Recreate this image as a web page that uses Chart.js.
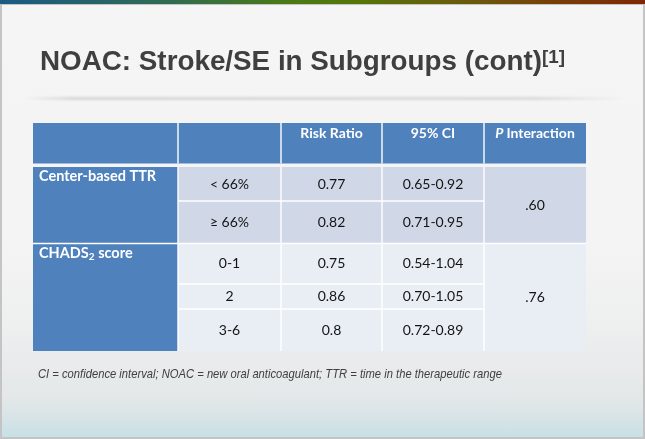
<!DOCTYPE html>
<html>
<head>
<meta charset="utf-8">
<script src="https://cdn.jsdelivr.net/npm/chart.js@4/dist/chart.umd.min.js"></script>
<style>
  html, body { margin: 0; padding: 0; }
  body { width: 645px; height: 439px; overflow: hidden; position: relative; background: #c4c4c4; }
  #strip { position: absolute; left: 0; top: 0; width: 645px; height: 4px;
    background: linear-gradient(to right, #1b5a86 0%, #2f6a55 25%, #4a7a14 45%, #55760a 55%, #6a5a0c 72%, #7a3a08 88%, #7e2606 100%); }
  #slide { position: absolute; left: 2px; top: 5px; width: 641px; height: 432px;
    background: linear-gradient(to bottom, #f5f5f5 0px, #f4f4f4 235px, #eeefef 320px, #e8eaeb 365px, #e4e8e9 390px, #dde5e8 405px, #d2e2e6 420px, #c6e1e5 432px); }
  #sep { position: absolute; left: 25px; top: 97px; width: 600px; height: 3px;
    background: linear-gradient(to right, rgba(215,215,215,0) 0%, rgba(215,215,215,1) 8%, rgba(218,218,218,1) 85%, rgba(225,225,225,0) 100%);
    filter: blur(1px); }
  #title { position: absolute; left: 40px; top: 43px; white-space: nowrap; transform-origin: 0 0;
    font-family: "Liberation Sans", Arial, sans-serif; font-weight: bold; font-size: 28px; line-height: 36px; color: #3f3f3f; }
  #title .sup { font-size: 19px; position: relative; top: -7px; }
  #foot { position: absolute; left: 38px; top: 366px; white-space: nowrap; transform-origin: 0 0;
    font-family: "Liberation Sans", Arial, sans-serif; font-style: italic; font-size: 13px; line-height: 16px; color: #404040; }
  #c { position: absolute; left: 0; top: 0; }
</style>
</head>
<body>
<div id="strip"></div>
<div id="slide"></div>
<div id="sep"></div>
<div id="title">NOAC: Stroke/SE in Subgroups (cont)<span class="sup">[1]</span></div>
<div id="foot">CI = confidence interval; NOAC = new oral anticoagulant; TTR = time in the therapeutic range</div>
<canvas id="c" width="645" height="439"></canvas>
<script>
// ---------------- data ----------------
const headers = ['', '', 'Risk Ratio', '95% CI', 'P Interaction'];
const groups = ['Center-based TTR', 'CHADS₂ score'];
const subgroups = ['< 66%', '≥ 66%', '0-1', '2', '3-6'];
const subgroupGroup = [0, 0, 1, 1, 1];
const riskRatio = [0.77, 0.82, 0.75, 0.86, 0.8];
const ciLow = [0.65, 0.71, 0.54, 0.70, 0.72];
const ciHigh = [0.92, 0.95, 1.04, 1.05, 0.89];
const pInteraction = [0.60, 0.76];

// ---------------- layout (table units) ----------------
const COL_W = [145, 103, 101, 102, 102];
const HEADER_H = 40.5;
const GAP_H = 3.5;
const ROW_H = [34, 42.5, 40.5, 25, 42];
const colEdges = [0];
COL_W.forEach(w => colEdges.push(colEdges[colEdges.length - 1] + w));
const rowEdges = [HEADER_H + GAP_H];
ROW_H.forEach(h => rowEdges.push(rowEdges[rowEdges.length - 1] + h));
const TOTAL_W = colEdges[colEdges.length - 1];
const TOTAL_H = rowEdges[rowEdges.length - 1];

const BLUE = '#4f81bd';
const BAND = ['#d0d8e8', '#e9edf4'];
const FONT = 'Lato, "Open Sans", sans-serif';
const HEAD_FONT = 'bold 14px ' + FONT;
const HEAD_FONT_I = 'italic bold 14px ' + FONT;
const GROUP_FONT = 'bold 14.5px ' + FONT;
const BODY_FONT = '14px ' + FONT;

function groupSpan(g) {
  const idx = subgroupGroup.map((v, i) => v === g ? i : -1).filter(i => i >= 0);
  return [rowEdges[idx[0]], rowEdges[idx[idx.length - 1] + 1]];
}

const tablePlugin = {
  id: 'tablePlugin',
  afterDatasetsDraw(chart) {
    const ctx = chart.ctx;
    const xs = chart.scales.x, ys = chart.scales.y;
    const X = v => xs.getPixelForValue(v);
    const Y = v => ys.getPixelForValue(v);
    const rect = (x0, y0, x1, y1, color) => {
      ctx.fillStyle = color;
      ctx.fillRect(X(x0), Y(y0), X(x1) - X(x0), Y(y1) - Y(y0));
    };
    ctx.save();
    rect(0, 0, TOTAL_W, HEADER_H, BLUE);
    groups.forEach((g, gi) => {
      const [a, b] = groupSpan(gi);
      rect(colEdges[0], a, colEdges[1], b, BLUE);
      rect(colEdges[4], a, colEdges[5], b, BAND[gi]);
    });
    subgroups.forEach((s, i) => {
      rect(colEdges[1], rowEdges[i], colEdges[4], rowEdges[i + 1], BAND[subgroupGroup[i]]);
    });
    ctx.strokeStyle = '#ffffff';
    ctx.lineWidth = 1.4;
    const line = (x0, y0, x1, y1) => {
      ctx.beginPath(); ctx.moveTo(X(x0), Y(y0)); ctx.lineTo(X(x1), Y(y1)); ctx.stroke();
    };
    for (let c = 1; c < COL_W.length; c++) {
      line(colEdges[c], 0, colEdges[c], HEADER_H);
      line(colEdges[c], rowEdges[0], colEdges[c], TOTAL_H);
    }
    subgroups.forEach((s, i) => {
      if (i === 0) return;
      if (subgroupGroup[i] !== subgroupGroup[i - 1]) {
        line(0, rowEdges[i], TOTAL_W, rowEdges[i]);
      } else {
        line(colEdges[1], rowEdges[i], colEdges[4], rowEdges[i]);
      }
    });

    // header text
    ctx.textBaseline = 'middle';
    ctx.fillStyle = '#ffffff';
    headers.forEach((h, ci) => {
      if (!h) return;
      const cx = X((colEdges[ci] + colEdges[ci + 1]) / 2);
      const cy = Y(0) + 10.5;
      if (h.startsWith('P ')) {
        ctx.font = HEAD_FONT_I;
        const pw = ctx.measureText('P ').width;
        ctx.font = HEAD_FONT;
        const rest = h.slice(2);
        const rw = ctx.measureText(rest).width;
        const x0 = cx - (pw + rw) / 2;
        ctx.textAlign = 'left';
        ctx.font = HEAD_FONT_I;
        ctx.fillText('P', x0, cy);
        ctx.font = HEAD_FONT;
        ctx.fillText(rest, x0 + pw, cy);
      } else {
        ctx.font = HEAD_FONT;
        ctx.textAlign = 'center';
        ctx.fillText(h, cx, cy);
      }
    });

    // group labels
    groups.forEach((g, gi) => {
      const [a] = groupSpan(gi);
      const x0 = X(colEdges[0]) + 6;
      const cy = Y(a) + 9.5;
      ctx.textAlign = 'left';
      ctx.fillStyle = '#ffffff';
      const parts = g.split('₂');
      ctx.font = GROUP_FONT;
      let x = x0;
      ctx.fillText(parts[0], x, cy);
      x += ctx.measureText(parts[0]).width;
      if (parts.length > 1) {
        ctx.font = 'bold 10px ' + FONT;
        ctx.fillText('2', x, cy + 4);
        x += ctx.measureText('2').width;
        ctx.font = GROUP_FONT;
        ctx.fillText(parts[1], x, cy);
      }
    });

    // body text
    ctx.fillStyle = '#141414';
    ctx.font = BODY_FONT;
    ctx.textAlign = 'center';
    subgroups.forEach((s, i) => {
      const cy = Y((rowEdges[i] + rowEdges[i + 1]) / 2);
      const cells = [s, String(riskRatio[i]), ciLow[i].toFixed(2) + '-' + ciHigh[i].toFixed(2)];
      cells.forEach((t, k) => {
        ctx.fillText(t, X((colEdges[k + 1] + colEdges[k + 2]) / 2), cy);
      });
    });
    pInteraction.forEach((p, gi) => {
      const [a, b] = groupSpan(gi);
      ctx.fillText(p.toFixed(2).replace(/^0/, ''), X((colEdges[4] + colEdges[5]) / 2), Y((a + b) / 2));
    });
    ctx.restore();
  }
};

new Chart(document.getElementById('c'), {
  type: 'scatter',
  data: { datasets: [{ data: [], pointRadius: 0 }] },
  options: {
    responsive: false,
    animation: false,
    devicePixelRatio: 1,
    layout: { padding: { left: 33, top: 123, right: 59, bottom: 88 } },
    plugins: { legend: { display: false }, tooltip: { enabled: false }, title: { display: false } },
    scales: {
      x: { type: 'linear', min: 0, max: TOTAL_W, display: false },
      y: { type: 'linear', min: 0, max: TOTAL_H, reverse: true, display: false }
    }
  },
  plugins: [tablePlugin]
});

function fit(id, w) {
  const el = document.getElementById(id);
  const r = el.getBoundingClientRect().width;
  if (r > 0) el.style.transform = 'scaleX(' + (w / r) + ')';
}
fit('title', 525);
fit('foot', 464);
</script>
</body>
</html>
